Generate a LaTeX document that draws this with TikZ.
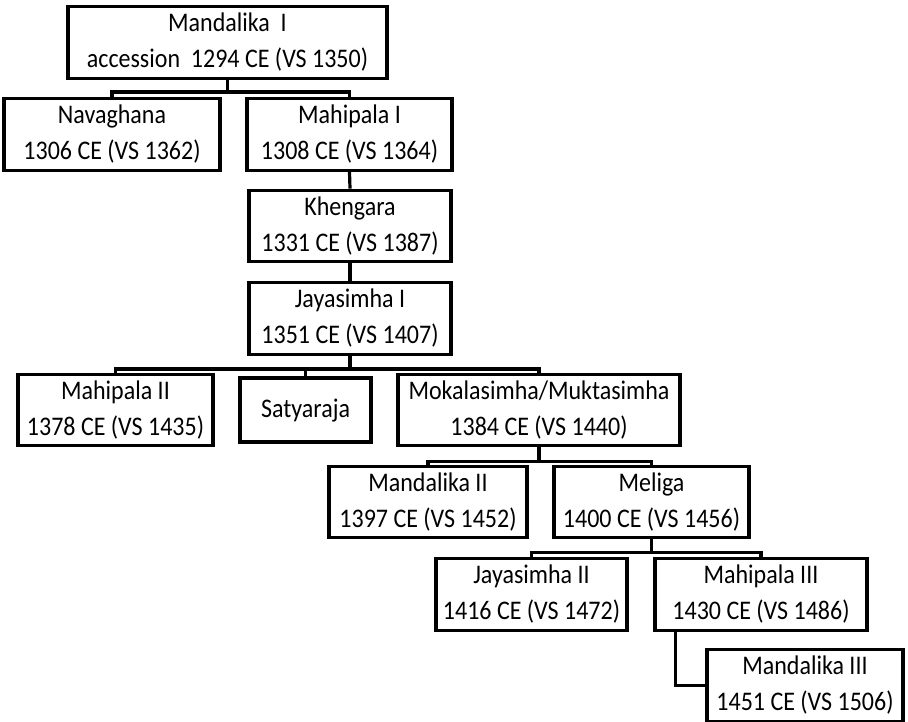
\documentclass[tikz,border=0pt]{standalone}
\usepackage{fontspec}
\usepackage{graphicx}
\setmainfont{Carlito}
\newcommand\lbl[1]{\scalebox{1}[1.12]{\begin{tabular}{@{}c@{}}#1\end{tabular}}}
\begin{document}
\begin{tikzpicture}[x=1pt,y=-1pt,
  box/.style={draw=black, line width=3.2pt, fill=white, align=center, inner sep=0pt,
    font=\fontsize{24}{32}\selectfont},
  conn/.style={draw=black, line width=3.2pt, line join=miter}]
\useasboundingbox (0,0) rectangle (908,722);
\fill[white] (0,0) rectangle (908,722);
% boxes: centre x, centre y, width, height
\node[box, minimum width=319pt, minimum height=65pt] (m1) at (227.5,42.5) {\lbl{Mandalika\ \ I\\accession\ \ 1294 CE (VS 1350)}};
\node[box, minimum width=216pt, minimum height=65pt] (nav) at (112,134.5) {\lbl{Navaghana\\1306 CE (VS 1362)}};
\node[box, minimum width=205pt, minimum height=65pt] (mp1) at (349.5,134.5) {\lbl{Mahipala I\\1308 CE (VS 1364)}};
\node[box, minimum width=202pt, minimum height=66pt] (kh) at (350,226) {\lbl{Khengara\\1331 CE (VS 1387)}};
\node[box, minimum width=202pt, minimum height=65pt] (js1) at (350,318.5) {\lbl{Jayasimha I\\1351 CE (VS 1407)}};
\node[box, minimum width=195pt, minimum height=64pt] (mp2) at (115.5,410) {\lbl{Mahipala II\\1378 CE (VS 1435)}};
\node[box, minimum width=131pt, minimum height=64pt] (sat) at (305.5,410) {\lbl{Satyaraja}};
\node[box, minimum width=282pt, minimum height=64pt] (mok) at (539,410) {\lbl{Mokalasimha/Muktasimha\\1384 CE (VS 1440)}};
\node[box, minimum width=198pt, minimum height=66pt] (md2) at (428,502) {\lbl{Mandalika II\\1397 CE (VS 1452)}};
\node[box, minimum width=195pt, minimum height=66pt] (mel) at (651.5,502) {\lbl{Meliga\\1400 CE (VS 1456)}};
\node[box, minimum width=191pt, minimum height=65pt] (js2) at (531.5,594.5) {\lbl{Jayasimha II\\1416 CE (VS 1472)}};
\node[box, minimum width=212pt, minimum height=65pt] (mp3) at (761,594.5) {\lbl{Mahipala III\\1430 CE (VS 1486)}};
\node[box, minimum width=196pt, minimum height=65pt] (md3) at (805,685.5) {\lbl{Mandalika III\\1451 CE (VS 1506)}};
% connectors
\draw[conn] (m1.south) -- ++(0,12) coordinate (b1);
\draw[conn] (nav.north) |- (b1) -| (mp1.north);
\draw[conn] (mp1.south) -- (kh.north);
\draw[conn] (kh.south) -- (js1.north);
\draw[conn] (js1.south) -- ++(0,13) coordinate (b2);
\draw[conn] (mp2.north) |- (b2) -| (mok.north);
\draw[conn] (sat.north) -- (sat.north |- b2);
\draw[conn] (mok.south) -- ++(0,14) coordinate (b3);
\draw[conn] (md2.north) |- (b3) -| (mel.north);
\draw[conn] (mel.south) -- ++(0,13) coordinate (b4);
\draw[conn] (js2.north) |- (b4) -| (mp3.north);
\draw[conn] (mp3.south west) ++(22,0) |- (md3.west);
\end{tikzpicture}
\end{document}
